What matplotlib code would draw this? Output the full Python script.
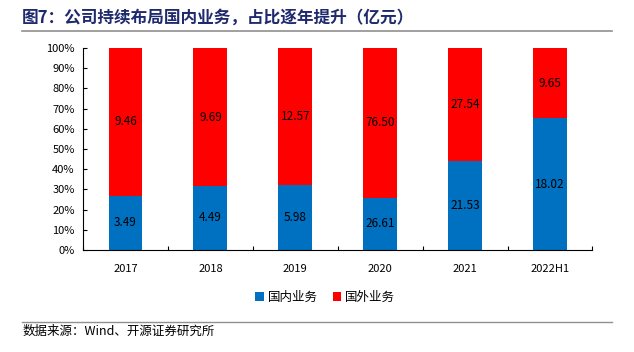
import matplotlib
matplotlib.use("Agg")
import matplotlib.pyplot as plt
import numpy as np

plt.rcParams['font.family'] = ['Noto Sans CJK SC', 'DejaVu Sans']

years = ['2017', '2018', '2019', '2020', '2021', '2022H1']
domestic = [3.49, 4.49, 5.98, 26.61, 21.53, 18.02]
foreign = [9.46, 9.69, 12.57, 76.50, 27.54, 9.65]
series_names = ['国内业务', '国外业务']

blue = '#0070C0'
red = '#FF0000'

dom = np.array(domestic)
fgn = np.array(foreign)
total = dom + fgn
dom_share = dom / total
fgn_share = fgn / total

fig = plt.figure(figsize=(6.34, 3.52), dpi=100)
ax = fig.add_axes([0.131, 0.290, 0.8035, 0.5735])

x = np.arange(len(years))
width = 0.4
ax.bar(x, dom_share, width, color=blue, label=series_names[0])
ax.bar(x, fgn_share, width, bottom=dom_share, color=red, label=series_names[1])

for i in range(len(years)):
    ax.text(x[i], dom_share[i] / 2, '%.2f' % domestic[i], ha='center', va='center', fontsize=8.5)
    ax.text(x[i], dom_share[i] + fgn_share[i] / 2, '%.2f' % foreign[i], ha='center', va='center', fontsize=8.5)

ax.set_xlim(-0.5, len(years) - 0.5)
ax.set_ylim(0, 1)
ax.set_yticks(np.arange(0, 1.01, 0.1))
ax.set_yticklabels(['%d%%' % round(v * 100) for v in np.arange(0, 1.01, 0.1)])
ax.set_xticks(x)
ax.set_xticklabels(years)
ax.set_xticks(np.arange(-0.5, len(years), 1), minor=True)
ax.tick_params(axis='x', which='major', length=0, labelsize=8, pad=10)
ax.tick_params(axis='x', which='minor', direction='in', length=3, width=0.8)
ax.tick_params(axis='y', direction='in', length=3, width=0.8, labelsize=8, pad=6)

for s in ['top', 'right']:
    ax.spines[s].set_visible(False)
for s in ['left', 'bottom']:
    ax.spines[s].set_linewidth(0.8)
    ax.spines[s].set_color('black')

ax.legend(loc='center', bbox_to_anchor=(0.475, -0.235), ncol=2, frameon=False,
          fontsize=9, handlelength=0.7, handleheight=0.7, handletextpad=0.3, columnspacing=1.2)

fig.text(0.035, 0.950, '图7：公司持续布局国内业务，占比逐年提升（亿元）', fontsize=12,
         fontweight='bold', color='#1F2A6E', ha='left', va='center')
fig.add_artist(plt.Line2D([0.035, 0.965], [0.912, 0.912], color='#909090', lw=1.2))
fig.add_artist(plt.Line2D([0.035, 0.965], [0.085, 0.085], color='#909090', lw=1.0))
fig.text(0.035, 0.06, '数据来源：Wind、开源证券研究所', fontsize=9, ha='left', va='center')

fig.savefig('out.png', dpi=100)
